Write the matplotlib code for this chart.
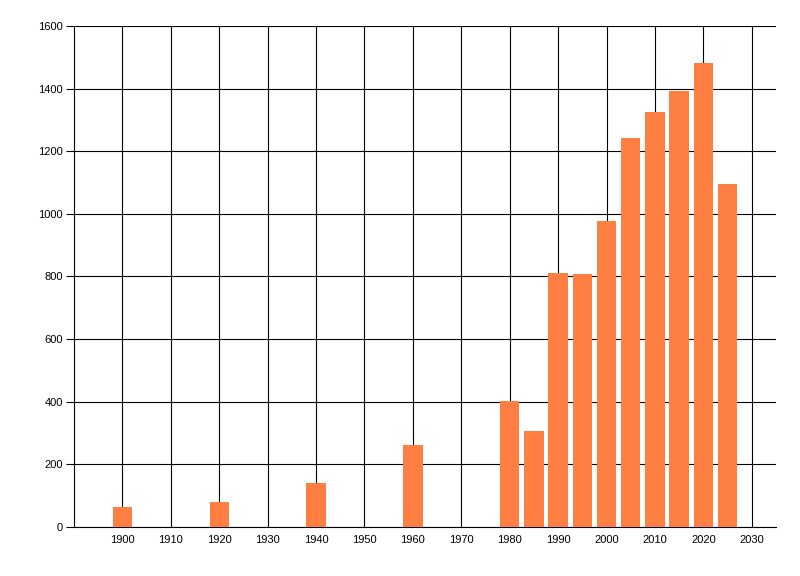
import matplotlib
matplotlib.use("Agg")
import matplotlib.pyplot as plt

years = [1900, 1920, 1940, 1960, 1980, 1985, 1990, 1995, 2000, 2005, 2010, 2015, 2020, 2025]
values = [64, 80, 141, 262, 401, 307, 811, 808, 977, 1243, 1326, 1393, 1482, 1096]
x_ticks = list(range(1900, 2031, 10))
y_ticks = list(range(0, 1601, 200))

plt.rcParams['font.family'] = ['Liberation Sans', 'DejaVu Sans']
fig = plt.figure(figsize=(8, 5.76), dpi=100)
ax = fig.add_axes([0.0925, 0.0851, 0.8775, 0.8698])

ax.bar(years, values, width=4, color='#FF7F42', zorder=3)

ax.set_xlim(1890, 2035)
ax.set_ylim(0, 1600)
ax.set_xticks(x_ticks)
ax.set_yticks(y_ticks)
ax.grid(True, color='black', linewidth=0.8, zorder=0)
ax.set_axisbelow(True)

for s in ['top', 'right']:
    ax.spines[s].set_visible(False)
for s in ['left', 'bottom']:
    ax.spines[s].set_color('black')
    ax.spines[s].set_linewidth(0.8)

ax.tick_params(axis='x', length=0, pad=6, labelsize=8, colors='black')
ax.tick_params(axis='y', length=6, width=0.8, pad=2, labelsize=8, colors='black')

fig.savefig('out.png', dpi=100)
